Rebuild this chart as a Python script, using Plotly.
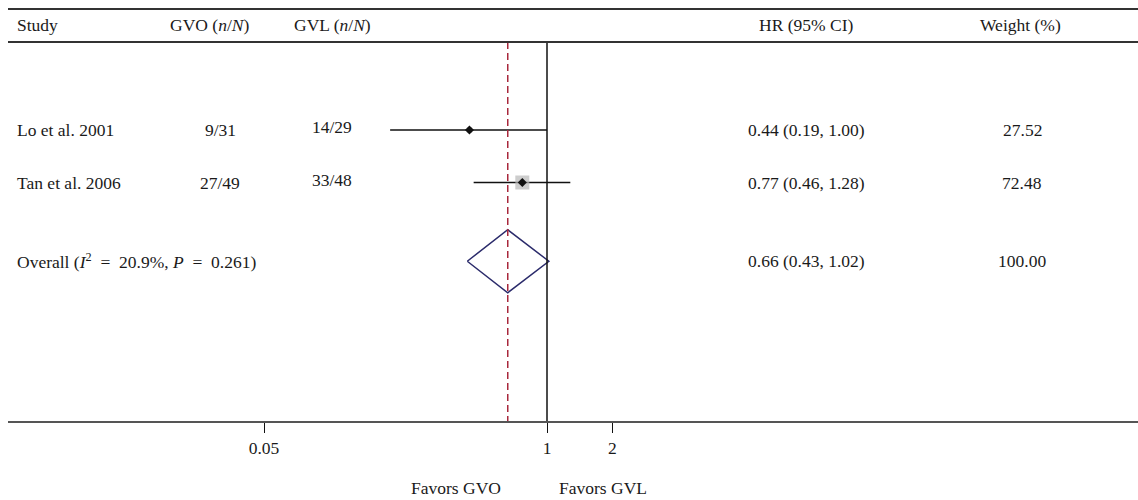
import plotly.graph_objects as go

# ---------------- data ----------------
studies = ["Lo et al. 2001", "Tan et al. 2006"]
gvo = ["9/31", "27/49"]
gvl = ["14/29", "33/48"]
hr = [0.44, 0.77]
lo = [0.19, 0.46]
hi = [1.00, 1.28]
weights = [27.52, 72.48]
study_rows = [1, 2]

overall_label = ("Overall (<i>I</i><sup>2</sup>&#160; =&#160; 20.9%, "
                 "<i>P</i>&#160; =&#160; 0.261)")
overall_hr = 0.66
overall_lo = 0.43
overall_hi = 1.02
overall_weight = 100.00
overall_row = 3.5

tick_vals = [0.05, 1, 2]
tick_text = ["0.05", "1", "2"]

headers = ["Study", "GVO (<i>n</i>/<i>N</i>)", "GVL (<i>n</i>/<i>N</i>)", "HR (95% CI)", "Weight (%)"]
favors = ["Favors GVO", "Favors GVL"]

# ---------------- layout helpers ----------------
W, H = 1138, 500
FONT = "Liberation Serif"
FS = 17.5
PLOT_L, PLOT_B = 8, 79
plot_w = W - PLOT_L
plot_h = H - PLOT_B          # 421 px
ROW0_PX, ROW_PX = 130, 52.5  # pixel of row 1, pixels per row


def row_of(px):
    return 1 + (px - ROW0_PX) / ROW_PX


def xp(px):
    return (px - PLOT_L) / plot_w


PX_PER_DEC = 217.5
X1_PX = 547
xr = [(PLOT_L - X1_PX) / PX_PER_DEC, (W - X1_PX) / PX_PER_DEC]
yr = [row_of(plot_h), row_of(0)]

fig = go.Figure()

# confidence intervals
for r, a, b in zip(study_rows, lo, hi):
    fig.add_trace(go.Scatter(x=[a, b], y=[r, r], mode="lines",
                             line=dict(color="#111111", width=1.5),
                             hoverinfo="skip", showlegend=False))

# weight boxes (size proportional to weight)
box_sizes = [14 * w / max(weights) for w in weights]
fig.add_trace(go.Scatter(x=hr, y=study_rows, mode="markers",
                         marker=dict(symbol="square", size=box_sizes, color="#b8b8b8",
                                     line=dict(width=0)),
                         showlegend=False))
# point estimates
fig.add_trace(go.Scatter(x=hr, y=study_rows, mode="markers",
                         marker=dict(symbol="diamond", size=7, color="#111111"),
                         showlegend=False))

# overall diamond
dh = 0.6
fig.add_trace(go.Scatter(
    x=[overall_lo, overall_hr, overall_hi, overall_hr, overall_lo],
    y=[overall_row, overall_row - dh, overall_row, overall_row + dh, overall_row],
    mode="lines", line=dict(color="#2b2b6b", width=1.5),
    showlegend=False, hoverinfo="skip"))

shapes = []
top_line_row = row_of(9)
head_line_row = row_of(42)
# null line
shapes.append(dict(type="line", xref="x", yref="y", x0=1, x1=1,
                   y0=head_line_row, y1=yr[0], line=dict(color="#111111", width=1.5)))
# overall dashed line
shapes.append(dict(type="line", xref="x", yref="y", x0=overall_hr, x1=overall_hr,
                   y0=head_line_row, y1=yr[0],
                   line=dict(color="#a8283c", width=1.5, dash="7px,4px")))
# header rules
for rr in (top_line_row, head_line_row):
    shapes.append(dict(type="line", xref="paper", yref="y", x0=0, x1=1, y0=rr, y1=rr,
                       line=dict(color="#333333", width=2)))

ann = []
tf = dict(family=FONT, size=FS, color="#1a1a1a")
hdr_row = row_of(25)
hdr_pos = [(15, "left"), (168, "left"), (292, "left"), (806, "center"), (1020, "center")]
for text, (px, al) in zip(headers, hdr_pos):
    ann.append(dict(x=xp(px), y=hdr_row, xref="paper", yref="y", text=text, showarrow=False,
                    xanchor=al, font=tf))

for i, r in enumerate(study_rows):
    ann.append(dict(x=xp(15), y=r, xref="paper", yref="y", text=studies[i], showarrow=False,
                    xanchor="left", font=tf))
    ann.append(dict(x=xp(220), y=r, xref="paper", yref="y", text=gvo[i], showarrow=False,
                    xanchor="center", font=tf))
    ann.append(dict(x=xp(332), y=r, xref="paper", yref="y", text=gvl[i], showarrow=False,
                    xanchor="center", font=tf, yshift=3))
    ann.append(dict(x=xp(806), y=r, xref="paper", yref="y",
                    text=f"{hr[i]:.2f} ({lo[i]:.2f}, {hi[i]:.2f})", showarrow=False,
                    xanchor="center", font=tf))
    ann.append(dict(x=xp(1022), y=r, xref="paper", yref="y", text=f"{weights[i]:.2f}",
                    showarrow=False, xanchor="center", font=tf))

ann.append(dict(x=xp(15), y=overall_row, xref="paper", yref="y", text=overall_label,
                showarrow=False, xanchor="left", font=tf))
ann.append(dict(x=xp(806), y=overall_row, xref="paper", yref="y",
                text=f"{overall_hr:.2f} ({overall_lo:.2f}, {overall_hi:.2f})", showarrow=False,
                xanchor="center", font=tf))
ann.append(dict(x=xp(1022), y=overall_row, xref="paper", yref="y", text=f"{overall_weight:.2f}",
                showarrow=False, xanchor="center", font=tf))

fav_y = (plot_h - 488) / plot_h
for text, px in zip(favors, [456, 603]):
    ann.append(dict(x=xp(px), y=fav_y, xref="paper", yref="paper", text=text, showarrow=False,
                    xanchor="center", yanchor="middle", font=tf))

fig.update_layout(
    width=W, height=H,
    margin=dict(l=PLOT_L, r=0, t=0, b=PLOT_B, pad=0),
    paper_bgcolor="white", plot_bgcolor="white",
    shapes=shapes, annotations=ann,
    xaxis=dict(type="log", range=xr, showgrid=False, zeroline=False,
               showline=True, linecolor="#555555", linewidth=2,
               ticks="outside", ticklen=10, tickwidth=1.2, tickcolor="#111111",
               tickvals=tick_vals, ticktext=tick_text,
               tickfont=dict(family=FONT, size=FS, color="#1a1a1a")),
    yaxis=dict(range=yr, showgrid=False, zeroline=False, showline=False,
               showticklabels=False, ticks=""),
    showlegend=False,
)

fig.write_html("out.html", config={"displayModeBar": False},
               post_script="document.body.style.margin='0';document.body.style.padding='0';")
